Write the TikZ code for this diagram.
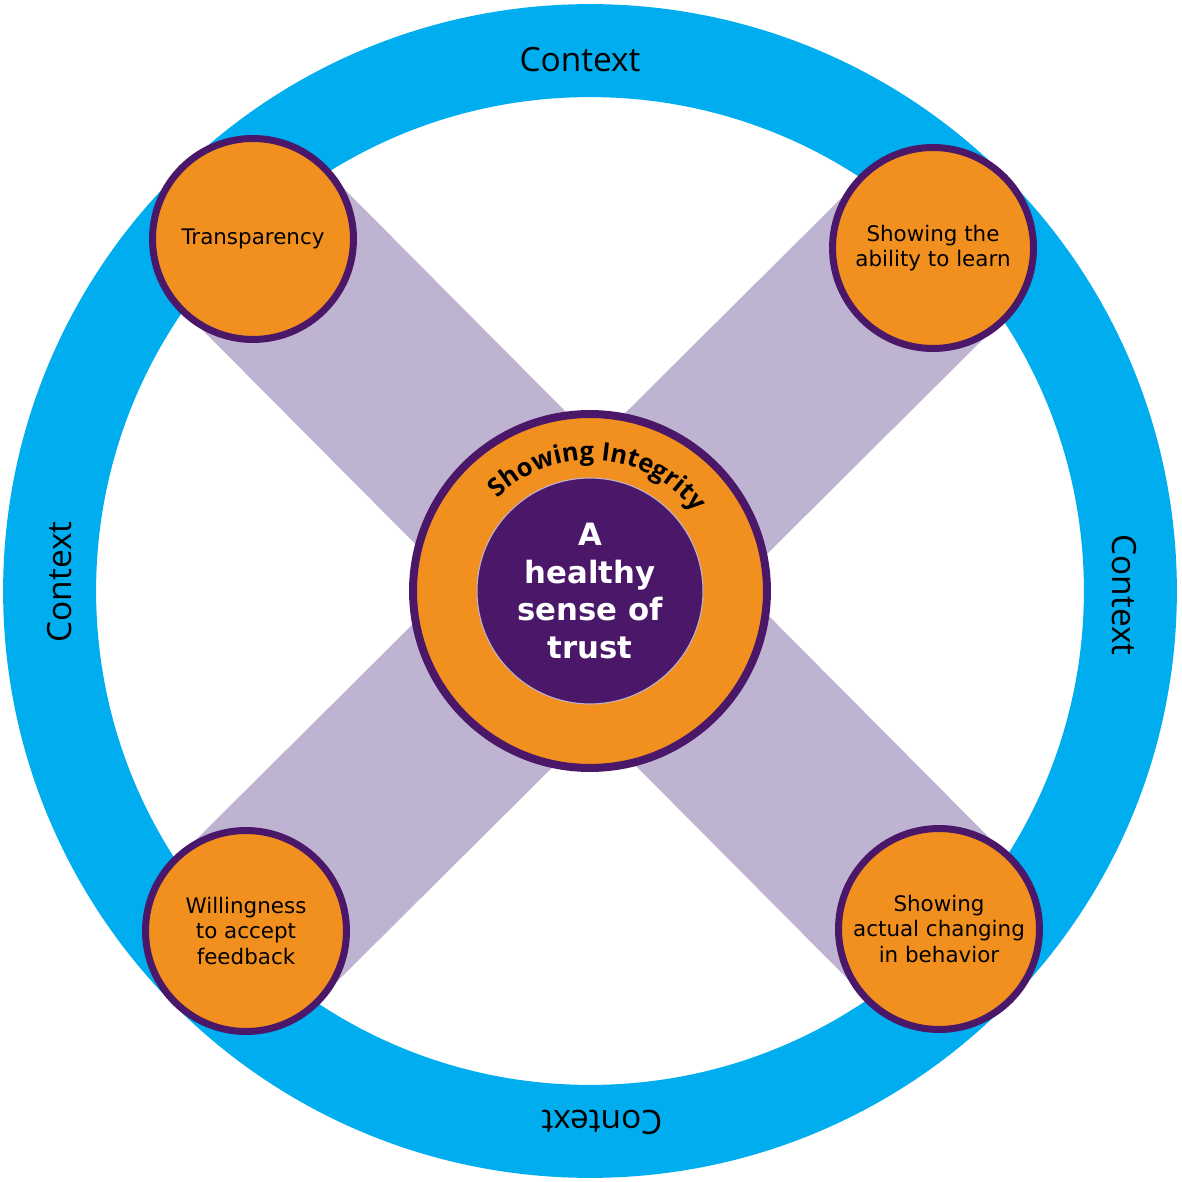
\documentclass[tikz,border=0pt]{standalone}
\usepackage{fontspec}
\setmainfont{DejaVu Sans}
\newfontfamily\ctxfont{Open Sans}
\usetikzlibrary{positioning,backgrounds,decorations.text}
\definecolor{ctxblue}{RGB}{0,174,239}
\definecolor{trustorange}{RGB}{242,144,31}
\definecolor{trustpurple}{RGB}{75,23,105}
\definecolor{bandlilac}{RGB}{190,180,210}

\begin{document}
\begin{tikzpicture}[x=0.02cm, y=0.02cm,
        pillar/.style={circle, draw=trustpurple, line width=0.14cm, fill=trustorange, minimum size=4.02cm, inner sep=0pt, align=center, font=\fontsize{12.2}{14.6}\selectfont},
        band/.style={bandlilac, line width=4cm},
        ctx/.style={font=\ctxfont\fontsize{19}{19}\selectfont}]

        \useasboundingbox (-590,-591) rectangle (591,591);

        \node[circle, draw=trustpurple, line width=0.16cm, fill=trustorange, minimum size=7.08cm] (core) at (0,0) {};
        \node[circle, draw=bandlilac, line width=0.6pt, fill=trustpurple, minimum size=4.52cm, inner sep=0pt, align=center, text=white, font=\bfseries\fontsize{17.5}{21.4}\selectfont] (trust) at (core.center) {A\\healthy\\sense of\\trust};

        \node[pillar] (transp) at (-337,352) {Transparency};
        \node[pillar] (learn) at (343,343) {Showing the\\ability to learn};
        \node[pillar] (willing) at (-344,-340) {Willingness\\to accept\\feedback};
        \node[pillar] (behav) at (349,-338) {Showing\\actual changing\\in behavior};

        \node[ctx] (ctxtop) at (-10,531) {Context};
        \node[ctx, rotate=-90] (ctxright) at (534,-4) {Context};
        \node[ctx, rotate=180] (ctxbottom) at (12,-531) {Context};
        \node[ctx, rotate=90] (ctxleft) at (-530,9) {Context};

        \path[decorate, decoration={text along path, text align=center,
            text={|\ctxfont\bfseries\fontsize{14.5}{14.5}\selectfont|Showing Integrity}}]
            (core.center) ++(176:131) arc[start angle=176, end angle=-4, radius=131];

        \begin{scope}[on background layer]
            \draw[ctxblue, line width=1.86cm] (core.center) circle[radius=10.81cm];
            \draw[band] (transp.center) -- (behav.center);
            \draw[band] (learn.center) -- (willing.center);
        \end{scope}
    \end{tikzpicture}
\end{document}
